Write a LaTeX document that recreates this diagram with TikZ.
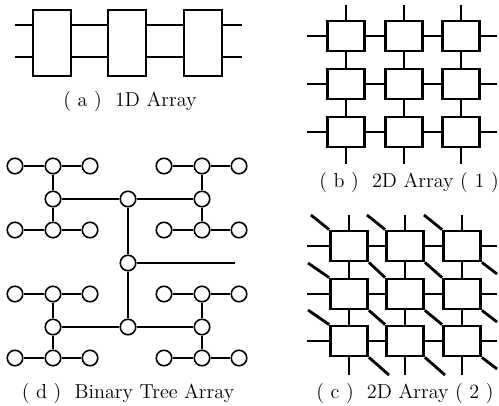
\documentclass[tikz,border=0pt]{standalone}
\usepackage{tikz}
\usetikzlibrary{calc}

\begin{document}
\begin{tikzpicture}[x=0.02cm, y=-0.02cm, line width=1.6pt,
  wide node/.style={rectangle, draw, line width=1.6pt, minimum width=0.76cm, minimum height=1.32cm, inner sep=0pt},
  cell node/.style={rectangle, draw, line width=1.6pt, minimum width=0.74cm, minimum height=0.6cm, inner sep=0pt},
  tree node/.style={circle, draw, fill=white, line width=0.9pt, minimum size=0.31cm, inner sep=0pt},
  caption/.style={font=\fontsize{11.5}{13}\selectfont, inner sep=0pt}]
\useasboundingbox (0,0) rectangle (499,405);

% (a) 1D array
\node[wide node] (a1) at (52,43) {};
\node[wide node] (a2) at (127,43) {};
\node[wide node] (a3) at (203,43) {};
\foreach \r/\y in {1/25,2/57} {
  \coordinate (aw\r) at (15,\y);
  \coordinate (ae\r) at (242,\y);
  \draw (aw\r) -- (a1.west |- aw\r) (a1.east |- aw\r) -- (a2.west |- aw\r)
        (a2.east |- aw\r) -- (a3.west |- aw\r) (a3.east |- aw\r) -- (ae\r);
}
\node[caption] (ta) at (130,101) {( a )\ \ 1D Array};

% (b) 2D array (1)
\foreach \i/\y in {1/36,2/84,3/132}
  \foreach \j/\x in {1/346,2/404,3/461}
    \node[cell node] (b\i\j) at (\x,\y) {};
\foreach \i/\y in {1/36,2/84,3/132} {
  \coordinate (bw\i) at (307,\y);
  \coordinate (be\i) at (497,\y);
  \draw (bw\i) -- (b\i1) (b\i1) -- (b\i2) (b\i2) -- (b\i3) (b\i3) -- (be\i);
}
\foreach \j/\x in {1/346,2/404,3/461} {
  \coordinate (bn\j) at (\x,5);
  \coordinate (bs\j) at (\x,164);
  \draw (bn\j) -- (b1\j) (b1\j) -- (b2\j) (b2\j) -- (b3\j) (b3\j) -- (bs\j);
}
\node[caption] (tb) at (409,182) {( b )\ \ 2D Array ( 1 )};

% (c) 2D array (2)
\foreach \i/\y in {1/246,2/294,3/341}
  \foreach \j/\x in {1/349,2/405,3/462}
    \node[cell node] (c\i\j) at (\x,\y) {};
\foreach \i/\y in {1/246,2/294,3/341} {
  \coordinate (cw\i) at (307,\y);
  \coordinate (ce\i) at (497,\y);
  \draw (cw\i) -- (c\i1) (c\i1) -- (c\i2) (c\i2) -- (c\i3) (c\i3) -- (ce\i);
}
\foreach \j/\x in {1/349,2/405,3/462} {
  \coordinate (cn\j) at (\x,215);
  \coordinate (cs\j) at (\x,375);
  \draw (cn\j) -- (c1\j) (c1\j) -- (c2\j) (c2\j) -- (c3\j) (c3\j) -- (cs\j);
}
% diagonals
\foreach \j/\x in {1/349,2/405,3/462} {
  \coordinate (cq\j) at (\x-38,215);
  \draw (cq\j) -- (c1\j.north west);
}
\foreach \i/\y in {2/294,3/341} {
  \coordinate (cp\i) at (308,\y-31);
  \draw (cp\i) -- (c\i1.north west);
}
\draw (c11.south east) -- (c22.north west) (c12.south east) -- (c23.north west)
      (c21.south east) -- (c32.north west) (c22.south east) -- (c33.north west);
\foreach \j/\x in {1/349,2/405} {
  \coordinate (cz\j) at (\x+40,375);
  \draw (c3\j.south east) -- (cz\j);
}
\foreach \i/\y in {1/246,2/294,3/341} {
  \coordinate (cy\i) at (497,\y+28);
  \draw (c\i3.south east) -- (cy\i);
}
\node[caption] (tc) at (405,393) {( c )\ \ 2D Array ( 2 )};

% (d) binary tree array
\begin{scope}[line width=1.1pt]
\node[tree node] (r) at (128,263) {};
\node[tree node] (u) at (128,199) {};
\node[tree node] (d) at (128,327) {};
\node[tree node] (ul) at (53,199) {};
\node[tree node] (ur) at (202,199) {};
\node[tree node] (dl) at (53,327) {};
\node[tree node] (dr) at (202,327) {};
\coordinate (rout) at (235,263);
\path (r) edge (u) (r) edge (d) (r) edge (rout)
      (u) edge (ul) (u) edge (ur) (d) edge (dl) (d) edge (dr);
\foreach \n/\x/\y in {ul/53/199,ur/202/199,dl/53/327,dr/202/327} {
  \foreach \k/\dy in {1/-33,2/31} {
    \node[tree node] (\n\k) at (\x,\y+\dy) {};
    \node[tree node] (\n\k w) at (\x-38,\y+\dy) {};
    \node[tree node] (\n\k e) at (\x+37,\y+\dy) {};
    \path (\n) edge (\n\k) (\n\k) edge (\n\k w) (\n\k) edge (\n\k e);
  }
}
\end{scope}
\node[caption] (td) at (128,393) {( d )\ \ Binary Tree Array};
\end{tikzpicture}
\end{document}
